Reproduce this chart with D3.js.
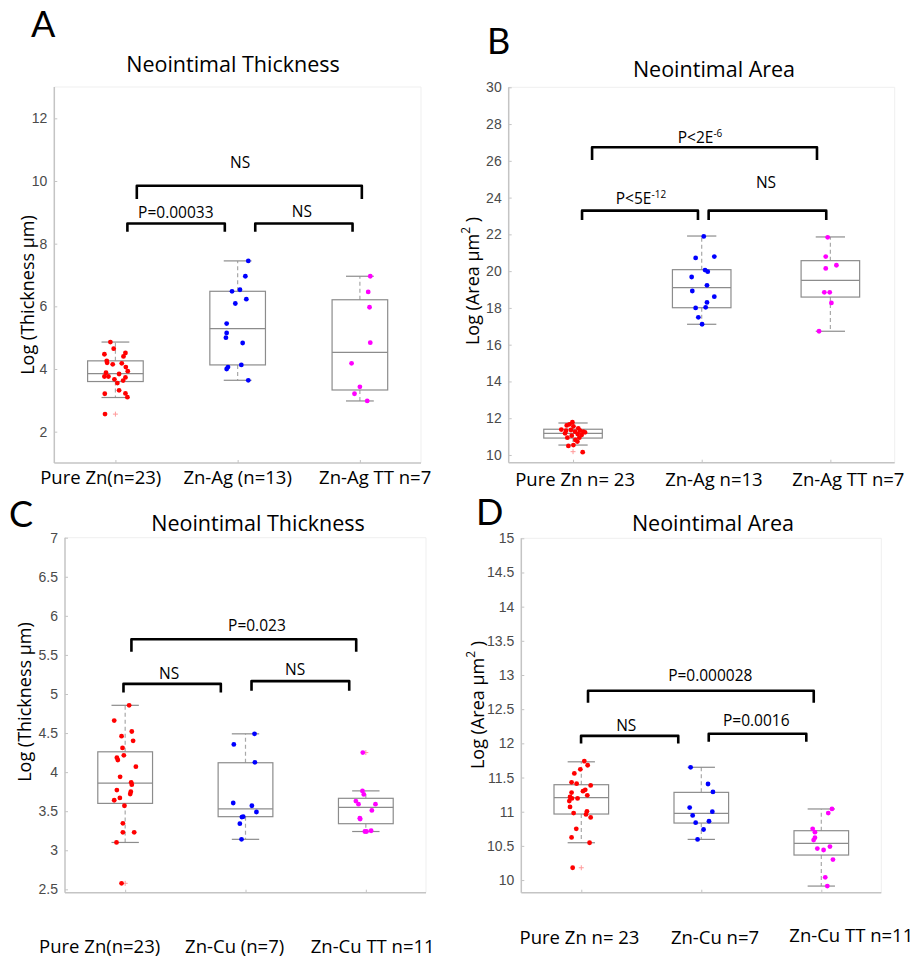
<!DOCTYPE html>
<html><head><meta charset="utf-8">
<script src="https://cdn.jsdelivr.net/npm/d3@7"></script>
<style>
 html,body{margin:0;padding:0;background:#fff;}
 svg{display:block;}
</style></head>
<body>
<svg id="chart" width="917" height="958"></svg>
<script>
// ================= DATA =================
// Panel A – Neointimal Thickness (Zn-Ag)
const catsA = ["Pure Zn(n=23)", "Zn-Ag (n=13)", "Zn-Ag TT n=7"];
const ticksA = [2, 4, 6, 8, 10, 12];
const ptsA_Zn = [4.86,4.65,4.51,4.47,4.40,4.26,4.20,4.18,4.15,4.06,3.93,3.88,3.84,3.76,3.76,3.73,3.67,3.63,3.55,3.32,3.21,3.22,3.10,2.56];
const jitA_Zn = [-0.041,-0.014,0.082,-0.090,0.066,-0.071,-0.068,0.052,-0.022,0.085,0.101,-0.077,0.030,-0.090,-0.057,0.082,-0.008,0.063,0.016,0.030,-0.087,0.082,0.098,-0.085];
const ptsA_Ag = [7.45,6.96,6.53,6.48,6.23,6.09,5.45,5.15,5.00,4.83,4.13,4.06,4.00,3.64];
const jitA_Ag = [0.087,0.063,0.019,-0.046,0.071,-0.019,-0.090,-0.090,-0.096,0.041,0.030,-0.079,-0.090,0.087];
const ptsA_TT = [6.96,6.46,5.97,4.84,4.18,3.43,3.21,2.98];
const jitA_TT = [0.085,0.068,0.079,0.085,-0.068,0.0,-0.044,0.060];
const q1A = [3.60, 4.13, 3.33], medA = [3.85, 5.29, 4.53], q3A = [4.26, 6.48, 6.21];
const loA = [3.09, 3.64, 2.98], hiA = [4.86, 7.45, 6.96];
const outA = [[2.56], [], []];
const pLabelsA = [["P=0.00033",""], ["NS",""], ["NS",""]];

// Panel B – Neointimal Area (Zn-Ag)
const catsB = ["Pure Zn n= 23", "Zn-Ag n=13", "Zn-Ag TT n=7"];
const ticksB = [10, 12, 14, 16, 18, 20, 22, 24, 26, 28, 30];
const ptsB_Zn = [11.78,11.67,11.61,11.56,11.45,11.38,11.36,11.32,11.32,11.27,11.27,11.23,11.18,11.14,11.09,11.05,10.94,10.94,10.82,10.73,10.54,10.49,10.15];
const jitB_Zn = [-0.005,-0.028,-0.049,0.003,0.041,-0.091,-0.016,-0.054,0.054,0.016,0.080,0.093,-0.062,0.036,0.067,-0.010,-0.044,0.049,0.018,0.034,0.003,-0.036,0.075];
const ptsB_Ag = [21.89,20.79,20.72,20.06,19.97,19.68,19.23,18.92,18.61,18.30,18.03,18.00,17.49,17.11];
const jitB_Ag = [0.016,0.098,-0.047,0.026,0.047,-0.078,0.041,-0.073,0.098,0.041,0.031,-0.047,-0.026,0.003];
const ptsB_TT = [21.84,20.79,20.32,20.15,18.85,18.85,18.27,16.73];
const jitB_TT = [-0.021,-0.036,0.047,-0.036,-0.047,-0.005,0.008,-0.088];
const q1B = [10.92, 18.01, 18.59], medB = [11.18, 19.10, 19.50], q3B = [11.40, 20.08, 20.57];
const loB = [10.54, 17.11, 16.73], hiB = [11.74, 21.91, 21.86];
const outB = [[10.18], [], []];
const pLabelsB = [["P<5E","-12"], ["NS",""], ["P<2E","-6"]];

// Panel C – Neointimal Thickness (Zn-Cu)
const catsC = ["Pure Zn(n=23)", "Zn-Cu (n=7)", "Zn-Cu TT n=11"];
const ticksC = [2.5, 3, 3.5, 4, 4.5, 5, 5.5, 6, 6.5, 7];
const ptsC_Zn = [4.855,4.66,4.52,4.46,4.40,4.31,4.215,4.185,4.155,4.07,3.94,3.87,3.84,3.77,3.75,3.72,3.67,3.64,3.57,3.345,3.23,3.23,3.10,2.577];
const jitC_Zn = [0.033,-0.091,0.055,-0.030,0.066,-0.022,-0.011,-0.069,-0.061,0.089,-0.042,0.050,0.055,-0.069,0.047,0.042,-0.044,-0.091,-0.006,-0.019,-0.019,0.075,-0.072,-0.030];
const ptsC_Cu = [4.49,4.355,4.125,3.605,3.57,3.49,3.43,3.425,3.34,3.14];
const jitC_Cu = [0.075,-0.097,0.078,-0.102,0.053,0.091,-0.019,-0.030,-0.047,-0.033];
const ptsC_TT = [4.25,3.76,3.715,3.63,3.59,3.59,3.51,3.41,3.40,3.25,3.24,3.24];
const jitC_TT = [-0.025,-0.028,-0.017,-0.083,-0.061,0.080,0.050,-0.050,-0.047,0.044,-0.008,0.006];
const q1C = [3.60, 3.43, 3.34], medC = [3.86, 3.53, 3.55], q3C = [4.26, 4.12, 3.665];
const loC = [3.10, 3.14, 3.24], hiC = [4.855, 4.49, 3.76];
const outC = [[2.577], [], [4.25]];
const pLabelsC = [["NS",""], ["NS",""], ["P=0.023",""]];

// Panel D – Neointimal Area (Zn-Cu)
const catsD = ["Pure Zn n= 23", "Zn-Cu n=7", "Zn-Cu TT n=11"];
const ticksD = [10, 10.5, 11, 11.5, 12, 12.5, 13, 13.5, 14, 14.5, 15];
const ptsD_Zn = [11.74,11.68,11.62,11.56,11.43,11.41,11.385,11.32,11.30,11.28,11.24,11.215,11.195,11.195,11.156,11.07,11.005,10.98,10.96,10.917,10.75,10.624,10.546,10.18];
const jitD_Zn = [0.025,0.053,-0.008,-0.058,-0.081,-0.039,0.078,0.033,0.014,-0.081,0.050,-0.094,-0.078,-0.031,-0.100,-0.094,0.047,-0.064,0.039,0.078,-0.042,-0.081,0.069,-0.072];
const ptsD_Cu = [11.65,11.405,11.29,11.06,11.0,10.946,10.86,10.84,10.74,10.595];
const jitD_Cu = [-0.089,0.056,0.097,-0.097,0.092,-0.072,0.064,-0.047,0.019,-0.031];
const ptsD_TT = [11.04,10.98,10.75,10.70,10.62,10.585,10.49,10.46,10.44,10.30,10.04,9.912];
const jitD_TT = [0.089,0.058,-0.072,-0.053,-0.053,-0.064,0.072,-0.033,0.019,0.097,0.033,0.050];
const q1D = [10.966, 10.834, 10.366], medD = [11.205, 10.976, 10.537], q3D = [11.395, 11.283, 10.722];
const loD = [10.546, 10.595, 9.912], hiD = [11.73, 11.65, 11.04];
const outD = [[10.18], [], []];
const pLabelsD = [["NS",""], ["P=0.0016",""], ["P=0.000028",""]];

const titles = ["Neointimal Thickness", "Neointimal Area", "Neointimal Thickness", "Neointimal Area"];
const letters = ["A", "B", "C", "D"];
const groupColors = ["#ff0000", "#0000ff", "#ff00ff"];

// ================= LAYOUT =================
const FONT = "'Open Sans', 'Noto Sans', sans-serif";
const LETTERFONT = "Lato, 'Open Sans', sans-serif";
const TICKFONT = "'Liberation Sans', Arial, sans-serif";

const panels = [
  { letter: letters[0], title: titles[0], cats: catsA, ticks: ticksA, yDomain: [1, 13], tickFmt: d3.format("d"),
    pts: [ptsA_Zn, ptsA_Ag, ptsA_TT], jit: [jitA_Zn, jitA_Ag, jitA_TT],
    q1: q1A, med: medA, q3: q3A, lo: loA, hi: hiA, out: outA,
    yLabel: ["Log (Thickness µm)", "", ""],
    box: { l: 54.3, r: 421, t: 87, b: 463 },
    letterPos: [31, 37], titlePos: [233, 72], yLabelPos: [27, 295],
    xLabelX: [0.88, 2.0, 3.125], xLabelY: [484, 484, 484],
    brackets: [
      { x1: 1.098, x2: 1.895, y: 8.645, drop: 8.4, lx: 1.494, ly: 8.815, lab: pLabelsA[0] },
      { x1: 2.144, x2: 2.940, y: 8.645, drop: 8.4, lx: 2.525, ly: 8.84, lab: pLabelsA[1] },
      { x1: 1.175, x2: 3.016, y: 9.85, drop: 13.3, lx: 2.02, ly: 10.41, lab: pLabelsA[2] } ] },
  { letter: letters[1], title: titles[1], cats: catsB, ticks: ticksB, yDomain: [9.58, 30], tickFmt: d3.format("d"),
    pts: [ptsB_Zn, ptsB_Ag, ptsB_TT], jit: [jitB_Zn, jitB_Ag, jitB_TT],
    q1: q1B, med: medB, q3: q3B, lo: loB, hi: hiB, out: outB,
    yLabel: ["Log (Area µm", "2", " )"],
    box: { l: 508.7, r: 894.7, t: 87.3, b: 462.7 },
    letterPos: [487, 54], titlePos: [714, 77], yLabelPos: [472, 281],
    xLabelX: [1.016, 2.095, 3.14], xLabelY: [486, 486, 486],
    brackets: [
      { x1: 1.070, x2: 1.971, y: 23.29, drop: 9.3, lx: 1.528, ly: 23.66, lab: pLabelsB[0] },
      { x1: 2.054, x2: 2.968, y: 23.29, drop: 9.3, lx: 2.50, ly: 24.53, lab: pLabelsB[1] },
      { x1: 1.148, x2: 2.896, y: 26.74, drop: 12.7, lx: 1.987, ly: 26.97, lab: pLabelsB[2] } ] },
  { letter: letters[2], title: titles[2], cats: catsC, ticks: ticksC, yDomain: [2.457, 7], tickFmt: d3.format(""),
    pts: [ptsC_Zn, ptsC_Cu, ptsC_TT], jit: [jitC_Zn, jitC_Cu, jitC_TT],
    q1: q1C, med: medC, q3: q3C, lo: loC, hi: hiC, out: outC,
    yLabel: ["Log (Thickness µm)", "", ""],
    box: { l: 65, r: 426, t: 537.7, b: 892.7 },
    letterPos: [9, 527], titlePos: [258, 531], yLabelPos: [24, 702],
    xLabelX: [0.788, 1.91, 3.057], xLabelY: [953, 953, 953],
    brackets: [
      { x1: 0.986, x2: 1.795, y: 5.13, drop: 8.6, lx: 1.366, ly: 5.191, lab: pLabelsC[0] },
      { x1: 2.050, x2: 2.862, y: 5.165, drop: 9.7, lx: 2.413, ly: 5.242, lab: pLabelsC[1] },
      { x1: 1.052, x2: 2.920, y: 5.70, drop: 12.4, lx: 2.095, ly: 5.809, lab: pLabelsC[2] } ] },
  { letter: letters[3], title: titles[3], cats: catsD, ticks: ticksD, yDomain: [9.815, 15], tickFmt: d3.format(""),
    pts: [ptsD_Zn, ptsD_Cu, ptsD_TT], jit: [jitD_Zn, jitD_Cu, jitD_TT],
    q1: q1D, med: medD, q3: q3D, lo: loD, hi: hiD, out: outD,
    yLabel: ["Log (Area µm", "2", " )"],
    box: { l: 521.3, r: 881.3, t: 538.3, b: 892.7 },
    letterPos: [476, 525], titlePos: [713, 531], yLabelPos: [477, 705],
    xLabelX: [0.985, 2.114, 3.25], xLabelY: [944, 944, 942],
    brackets: [
      { x1: 0.998, x2: 1.808, y: 12.11, drop: 7.6, lx: 1.375, ly: 12.185, lab: pLabelsD[0] },
      { x1: 2.062, x2: 2.875, y: 12.14, drop: 8.0, lx: 2.458, ly: 12.258, lab: pLabelsD[1] },
      { x1: 1.056, x2: 2.937, y: 12.77, drop: 12.0, lx: 2.075, ly: 12.917, lab: pLabelsD[2] } ] }
];

const svg = d3.select("#chart");

function drawPanel(p) {
  const g = svg.append("g");
  const x = d3.scaleLinear().domain([0.5, 3.5]).range([p.box.l, p.box.r]);
  const y = d3.scaleLinear().domain(p.yDomain).range([p.box.b, p.box.t]);
  const unit = x(2) - x(1);
  const bw = unit * 0.455;

  // faint frame (top/right)
  g.append("path")
    .attr("d", `M${p.box.l},${p.box.t}H${p.box.r}V${p.box.b}`)
    .attr("fill", "none").attr("stroke", "#efefef").attr("stroke-width", 1);

  // y axis
  const yAxis = d3.axisLeft(y).tickValues(p.ticks).tickFormat(p.tickFmt).tickSizeInner(-3).tickSizeOuter(0).tickPadding(7);
  const ya = g.append("g").attr("transform", `translate(${p.box.l},0)`).call(yAxis);
  ya.select(".domain").attr("stroke", "#c4c4c4").attr("stroke-width", 1.5)
    .attr("d", `M0,${p.box.t}V${p.box.b}`);
  ya.selectAll(".tick line").attr("stroke", "#c4c4c4");
  ya.selectAll(".tick text").attr("fill", "#4a4a4a").style("font-family", TICKFONT).style("font-size", "14px");

  // x axis
  const xAxis = d3.axisBottom(x).tickValues([1, 2, 3]).tickFormat("").tickSizeInner(-3).tickSizeOuter(0);
  const xa = g.append("g").attr("transform", `translate(0,${p.box.b})`).call(xAxis);
  xa.select(".domain").attr("stroke", "#c4c4c4").attr("stroke-width", 1.5)
    .attr("d", `M${p.box.l},0H${p.box.r}`);
  xa.selectAll(".tick line").attr("stroke", "#c4c4c4");

  // boxplots
  [0, 1, 2].forEach(i => {
    const cx = x(i + 1);
    const bg = g.append("g");
    bg.append("line").attr("x1", cx).attr("x2", cx).attr("y1", y(p.q3[i])).attr("y2", y(p.hi[i]))
      .attr("stroke", "#a8a8a8").attr("stroke-dasharray", "4,3").attr("stroke-width", 1.2);
    bg.append("line").attr("x1", cx).attr("x2", cx).attr("y1", y(p.q1[i])).attr("y2", y(p.lo[i]))
      .attr("stroke", "#a8a8a8").attr("stroke-dasharray", "4,3").attr("stroke-width", 1.2);
    [p.hi[i], p.lo[i]].forEach(v => {
      bg.append("line").attr("x1", cx - bw / 4).attr("x2", cx + bw / 4).attr("y1", y(v)).attr("y2", y(v))
        .attr("stroke", "#8c8c8c").attr("stroke-width", 1.2);
    });
    bg.append("rect").attr("x", cx - bw / 2).attr("y", y(p.q3[i])).attr("width", bw)
      .attr("height", y(p.q1[i]) - y(p.q3[i])).attr("fill", "none").attr("stroke", "#8c8c8c").attr("stroke-width", 1.2);
    bg.append("line").attr("x1", cx - bw / 2).attr("x2", cx + bw / 2).attr("y1", y(p.med[i])).attr("y2", y(p.med[i]))
      .attr("stroke", "#8c8c8c").attr("stroke-width", 1.2);
    p.out[i].forEach(v => {
      bg.append("path").attr("d", `M${cx - 2.5},${y(v)}h5M${cx},${y(v) - 2.5}v5`)
        .attr("stroke", "#ff9a9a").attr("stroke-width", 1);
    });
    bg.selectAll("circle").data(p.pts[i]).join("circle")
      .attr("cx", (d, j) => x(i + 1 + p.jit[i][j]))
      .attr("cy", d => y(d)).attr("r", 2.4).attr("fill", groupColors[i]);
  });

  // brackets
  p.brackets.forEach(b => {
    const x1 = x(b.x1), x2 = x(b.x2), yt = y(b.y);
    g.append("path").attr("d", `M${x1},${yt + b.drop}V${yt}H${x2}V${yt + b.drop}`)
      .attr("fill", "none").attr("stroke", "#000").attr("stroke-width", 2.6)
      .attr("stroke-linejoin", "round");
    const t = g.append("text").attr("x", x(b.lx)).attr("y", y(b.ly)).attr("text-anchor", "middle")
      .style("font-family", FONT).style("font-size", "15.5px").attr("fill", "#000");
    t.append("tspan").text(b.lab[0]);
    if (b.lab[1]) t.append("tspan").attr("dy", -6).style("font-size", "10px").text(b.lab[1]);
  });

  // category labels
  p.cats.forEach((c, i) => {
    g.append("text").attr("x", x(p.xLabelX[i])).attr("y", p.xLabelY[i]).attr("text-anchor", "middle")
      .style("font-family", FONT).style("font-size", "18.5px").attr("fill", "#000").text(c);
  });

  // title
  g.append("text").attr("x", p.titlePos[0]).attr("y", p.titlePos[1]).attr("text-anchor", "middle")
    .style("font-family", FONT).style("font-size", "21.5px").attr("fill", "#000").text(p.title);

  // panel letter
  g.append("text").attr("x", p.letterPos[0]).attr("y", p.letterPos[1])
    .style("font-family", LETTERFONT).style("font-size", "36px").attr("fill", "#000").text(p.letter);

  // y label
  const yl = g.append("text")
    .attr("transform", `translate(${p.yLabelPos[0]},${p.yLabelPos[1]}) rotate(-90)`)
    .attr("text-anchor", "middle").attr("dominant-baseline", "central")
    .style("font-family", FONT).style("font-size", "18px").attr("fill", "#000");
  yl.append("tspan").text(p.yLabel[0]);
  if (p.yLabel[1]) {
    yl.append("tspan").attr("dy", -7).style("font-size", "12px").text(p.yLabel[1]);
    yl.append("tspan").attr("dy", 7).text(p.yLabel[2]);
  }
}

panels.forEach(drawPanel);
</script>
</body></html>
